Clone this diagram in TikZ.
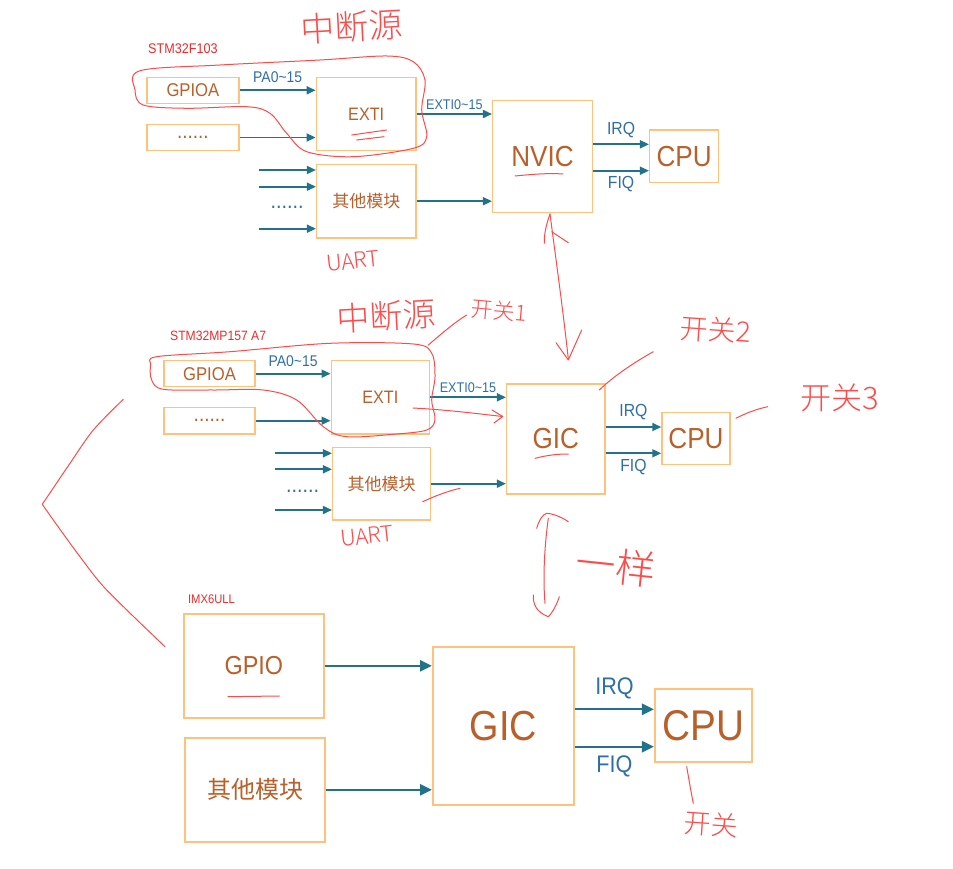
\documentclass[tikz,border=0pt]{standalone}
\usepackage{fontspec}
\setmainfont{Liberation Sans}[FakeStretch=0.9]
\newfontfamily\cjk{Noto Sans CJK SC}
\newfontfamily\hand{Noto Sans CJK SC Light}
\usetikzlibrary{arrows.meta}
\definecolor{boxc}{HTML}{FFC27D}
\definecolor{txtc}{HTML}{B9602A}
\definecolor{arrc}{HTML}{22738A}
\definecolor{lblc}{HTML}{2F6FA8}
\definecolor{redc}{HTML}{FF4A4A}
\definecolor{chipc}{HTML}{EE2A2A}
\newcommand\fsz[1]{\fontsize{#1}{#1}\selectfont}
\tikzset{
  blk/.style={draw=boxc, line width=1.5pt, inner sep=0pt, text=txtc, align=center},
  blkbig/.style={blk, line width=2pt},
  arr/.style={draw=arrc, line width=1.7pt, -{Triangle[length=9pt,width=8pt]}},
  arrbig/.style={draw=arrc, line width=2.3pt, -{Triangle[length=12pt,width=11pt]}},
  lbl/.style={text=lblc, inner sep=1pt},
  chip/.style={text=chipc, anchor=west, inner sep=0pt},
  hw/.style={draw=redc, line width=1pt, line cap=round, line join=round},
  hwt/.style={text=redc, inner sep=0pt},
}
\begin{document}
\begin{tikzpicture}[x=1pt,y=-1pt]
\useasboundingbox[fill=white] (0,0) rectangle (953,869);

% ================= Section 1: STM32F103 =================
\node[chip, font=\fsz{14}] (s1lab) at (148,49) {STM32F103};
\node[blk, minimum width=92.3, minimum height=26, font=\fsz{18.5}] (s1gpio) at (192.9,90.3) {GPIOA};
\node[blk, minimum width=92.3, minimum height=26.4, font=\fsz{21}] (s1dots) at (192.9,137.5) {......};
\node[blk, minimum width=99.7, minimum height=73.4, font=\fsz{18}] (s1exti) at (366.2,114) {EXTI};
\node[blk, minimum width=99.3, minimum height=73.7, font=\cjk\fsz{17}] (s1other) at (366.3,201.2) {其他模块};
\node[blk, minimum width=99.6, minimum height=112, font=\fsz{29}] (s1nvic) at (542.5,156.7) {NVIC};
\node[blk, minimum width=69, minimum height=52.3, font=\fsz{29}] (s1cpu) at (684.2,156.2) {CPU};
\node[lbl, font=\fsz{22}] (s1idots) at (287,207.5) {......};

\coordinate (s1i1) at (259,170);
\coordinate (s1i2) at (259,186.7);
\coordinate (s1i3) at (259,228.7);
\coordinate (s1q1) at (0,144.3);
\coordinate (s1q2) at (0,170.7);

\draw[arr] (s1gpio.east) -- (s1gpio.east -| s1exti.west) node[lbl, midway, above=6pt, font=\fsz{15.5}] {PA0\textasciitilde15};
\draw[arr] (s1dots.east) -- (s1dots.east -| s1exti.west);
\draw[arr] (s1i1) -- (s1i1 -| s1other.west);
\draw[arr] (s1i2) -- (s1i2 -| s1other.west);
\draw[arr] (s1i3) -- (s1i3 -| s1other.west);
\draw[arr] (s1exti.east) -- (s1exti.east -| s1nvic.west) node[lbl, midway, above=3pt, font=\fsz{14}] {EXTI0\textasciitilde15};
\draw[arr] (s1other.east) -- (s1other.east -| s1nvic.west);
\draw[arr] (s1nvic.east |- s1q1) -- (s1cpu.west |- s1q1) node[lbl, midway, above=5pt, font=\fsz{17.5}] {IRQ};
\draw[arr] (s1nvic.east |- s1q2) -- (s1cpu.west |- s1q2) node[lbl, midway, below=4pt, font=\fsz{17.5}] {FIQ};

% ================= Section 2: STM32MP157 A7 =================
\node[chip, font=\fsz{13.5}] (s2lab) at (170,336) {STM32MP157 A7};
\node[blk, minimum width=91, minimum height=26, font=\fsz{18.5}] (s2gpio) at (209.5,373.7) {GPIOA};
\node[blk, minimum width=91, minimum height=26.7, font=\fsz{21}] (s2dots) at (209.5,420.7) {......};
\node[blk, minimum width=98, minimum height=73.3, font=\fsz{18}] (s2exti) at (380.3,397.3) {EXTI};
\node[blk, minimum width=98, minimum height=72.7, font=\cjk\fsz{17}] (s2other) at (381.7,483.7) {其他模块};
\node[blk, minimum width=98.3, minimum height=110, font=\fsz{29}] (s2gic) at (555.8,439) {GIC};
\node[blk, minimum width=68, minimum height=51.6, font=\fsz{29}] (s2cpu) at (696,438.5) {CPU};
\node[lbl, font=\fsz{22}] (s2idots) at (302.5,491) {......};

\coordinate (s2i1) at (275,453.3);
\coordinate (s2i2) at (275,469.3);
\coordinate (s2i3) at (275,510);
\coordinate (s2q1) at (0,427);
\coordinate (s2q2) at (0,453.3);

\draw[arr] (s2gpio.east) -- (s2gpio.east -| s2exti.west) node[lbl, midway, above=5pt, font=\fsz{15.5}] {PA0\textasciitilde15};
\draw[arr] (s2dots.east) -- (s2dots.east -| s2exti.west);
\draw[arr] (s2i1) -- (s2i1 -| s2other.west);
\draw[arr] (s2i2) -- (s2i2 -| s2other.west);
\draw[arr] (s2i3) -- (s2i3 -| s2other.west);
\draw[arr] (s2exti.east) -- (s2exti.east -| s2gic.west) node[lbl, midway, above=3pt, font=\fsz{14}] {EXTI0\textasciitilde15};
\draw[arr] (s2other.east) -- (s2other.east -| s2gic.west);
\draw[arr] (s2gic.east |- s2q1) -- (s2cpu.west |- s2q1) node[lbl, midway, above=5pt, font=\fsz{17.5}] {IRQ};
\draw[arr] (s2gic.east |- s2q2) -- (s2cpu.west |- s2q2) node[lbl, midway, below=4pt, font=\fsz{17.5}] {FIQ};

% ================= Section 3: IMX6ULL =================
\node[chip, font=\fsz{12.5}] (s3lab) at (187.9,599) {IMX6ULL};
\node[blkbig, minimum width=140.2, minimum height=103.7, font=\fsz{26}] (s3gpio) at (253.8,665.8) {GPIO};
\node[blkbig, minimum width=140.2, minimum height=103.7, font=\cjk\fsz{24}] (s3other) at (255.1,789.8) {其他模块};
\node[blkbig, minimum width=141, minimum height=158.6, font=\fsz{42}] (s3gic) at (503.5,726) {GIC};
\node[blkbig, minimum width=96.7, minimum height=73.3, font=\fsz{43}] (s3cpu) at (703.3,725.7) {CPU};

\coordinate (s3q1) at (0,709.3);
\coordinate (s3q2) at (0,746.7);

\draw[arrbig] (s3gpio.east) -- (s3gpio.east -| s3gic.west);
\draw[arrbig] (s3other.east) -- (s3other.east -| s3gic.west);
\draw[arrbig] (s3gic.east |- s3q1) -- (s3cpu.west |- s3q1) node[lbl, midway, above=8pt, font=\fsz{24}] {IRQ};
\draw[arrbig] (s3gic.east |- s3q2) -- (s3cpu.west |- s3q2) node[lbl, midway, below=7pt, font=\fsz{24}] {FIQ};

% ================= Red handwritten annotations =================
% section 1
\node[hwt, font=\hand\fsz{34}, rotate=3] (h1) at (352,27) {中断源};
\draw[hw] plot[smooth cycle, tension=0.55] coordinates {(140,70.7) (220,65) (320,60) (386.7,56) (413.3,61.7) (425,80) (421.7,110) (426.7,136.7) (413.3,148.3) (353.3,156.7) (306.7,151.7) (286.7,133.3) (270,113.3) (246.7,106.7) (186.7,108.3) (143.3,105) (135,90)};
\draw[hw] (351.7,135) -- (386.7,130);
\draw[hw] (356.7,140) -- (384,136.7);
\draw[hw] (515,176) .. controls (535,174) and (550,173) .. (563,174);
\node[hwt, font=\hand\fsz{22}, rotate=6] (h2) at (353,261) {UART};
% double arrow NVIC <-> GIC
\draw[hw] (550,214) .. controls (556,260) and (563,310) .. (568.3,359);
\draw[hw] (550,214) .. controls (546,225) and (544,235) .. (544.3,243.3);
\draw[hw] (551.7,231.7) -- (568.3,242.7);
\draw[hw] (556,342.7) -- (568.3,360) -- (581.7,330);

% section 2
\node[hwt, font=\hand\fsz{33}, rotate=3] (h3) at (386,316) {中断源};
\node[hwt, font=\hand\fsz{22}, rotate=-5] (h4) at (499,311) {开关1};
\draw[hw] (428.3,345) .. controls (440,335) and (455,322) .. (466.7,315);
\draw[hw] plot[smooth cycle, tension=0.55] coordinates {(156.7,356.7) (230,351.7) (330,343.3) (413.3,344) (431.7,353.3) (435,376.7) (431.7,400) (435,420) (426.7,430) (396.7,434) (346.7,436.7) (323.3,426.7) (296.7,400) (263.3,390) (213.3,390) (163.3,389.3) (151.7,380) (150.7,365)};
\draw[hw] (413,408) .. controls (450,410) and (480,414) .. (502.7,416.5);
\draw[hw] (492,410) -- (502.7,416.5) -- (494,423);
\draw[hw] (422.7,501.7) .. controls (435,496) and (448,491) .. (460,488.3);
\draw[hw] (535,458.3) .. controls (548,455) and (558,454) .. (568.3,454);
\draw[hw] (599.3,390) .. controls (615,375) and (635,362) .. (653.3,351.7);
\node[hwt, font=\hand\fsz{28}, rotate=-4] (h5) at (716,330) {开关2};
\draw[hw] (736,418.3) .. controls (746,413) and (757,409) .. (767.7,406.7);
\node[hwt, font=\hand\fsz{31}] (h6) at (840,398) {开关3};
\node[hwt, font=\hand\fsz{22}, rotate=6] (h7) at (367,536) {UART};
% double arrow GIC <-> GIC
\draw[hw] (548.3,518.3) .. controls (544,550) and (543,580) .. (545,603.3);
\draw[hw] (536.7,528.3) .. controls (539,520) and (543,514) .. (546.7,513.3) .. controls (555,514) and (563,518) .. (568.3,521.7);
\draw[hw] (533.3,595) .. controls (533,604) and (536,612) .. (548.3,616.7) .. controls (553,612) and (557,604) .. (559.3,596.7);
\node[hwt, font=\hand\fsz{40}, rotate=-6] (h8) at (616,566) {一样};

% section 3
\draw[hw] plot[smooth, tension=0.5] coordinates {(123.3,399.3) (93.3,430) (70,463.3) (42.3,504.3)};
\draw[hw] plot[smooth, tension=0.5] coordinates {(42.3,504.3) (53.3,520) (80,556.7) (106.7,590) (165,646.7)};
\draw[hw] (227.9,696.7) -- (279.3,696);
\draw[hw] (686.7,766.7) .. controls (689,780) and (691,792) .. (693.3,803.3);
\node[hwt, font=\hand\fsz{27}, rotate=-4] (h9) at (711,824) {开关};
\end{tikzpicture}
\end{document}
